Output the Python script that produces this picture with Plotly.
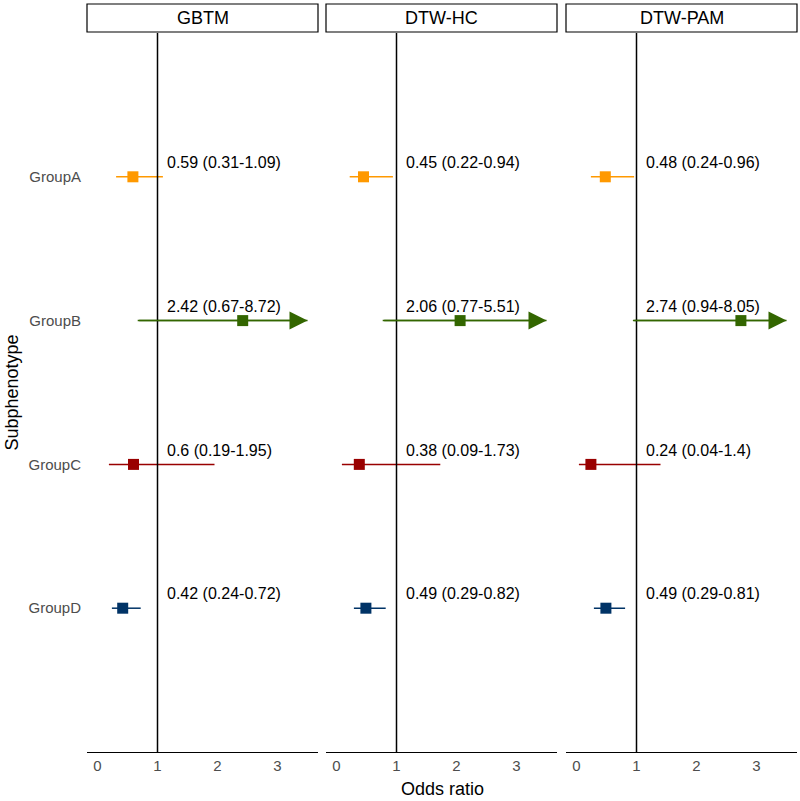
import plotly.graph_objects as go

methods = ["GBTM", "DTW-HC", "DTW-PAM"]
groups = ["GroupA", "GroupB", "GroupC", "GroupD"]
group_colors = ["#FF9900", "#336600", "#990000", "#003366"]

odds = {
    "GBTM":    [0.59, 2.42, 0.60, 0.42],
    "DTW-HC":  [0.45, 2.06, 0.38, 0.49],
    "DTW-PAM": [0.48, 2.74, 0.24, 0.49],
}
lower = {
    "GBTM":    [0.31, 0.67, 0.19, 0.24],
    "DTW-HC":  [0.22, 0.77, 0.09, 0.29],
    "DTW-PAM": [0.24, 0.94, 0.04, 0.29],
}
upper = {
    "GBTM":    [1.09, 8.72, 1.95, 0.72],
    "DTW-HC":  [0.94, 5.51, 1.73, 0.82],
    "DTW-PAM": [0.96, 8.05, 1.40, 0.81],
}
labels = {
    "GBTM":    ["0.59 (0.31-1.09)", "2.42 (0.67-8.72)", "0.6 (0.19-1.95)", "0.42 (0.24-0.72)"],
    "DTW-HC":  ["0.45 (0.22-0.94)", "2.06 (0.77-5.51)", "0.38 (0.09-1.73)", "0.49 (0.29-0.82)"],
    "DTW-PAM": ["0.48 (0.24-0.96)", "2.74 (0.94-8.05)", "0.24 (0.04-1.4)", "0.49 (0.29-0.81)"],
}
x_cap = 3.5
x_ticks = [0, 1, 2, 3]
x_range = [-0.175, 3.675]
ref_line = 1

FONT = "Liberation Sans, Arial, sans-serif"
W, H = 800, 801
panel_px = [(87, 318), (326, 557), (566, 797)]
top_px, bot_px = 33, 752
strip_top, strip_bot = 4, 32

fig = go.Figure()
annotations = []
shapes = []

# y positions: GroupA at top
ypos = {g: len(groups) - i for i, g in enumerate(groups)}

for k, m in enumerate(methods):
    xa = "x" if k == 0 else f"x{k+1}"
    ya = "y" if k == 0 else f"y{k+1}"
    for i, g in enumerate(groups):
        y = ypos[g]
        col = group_colors[i]
        hi = min(upper[m][i], x_cap)
        fig.add_trace(go.Scatter(
            x=[lower[m][i], hi], y=[y, y], mode="lines",
            line=dict(color=col, width=1.5), xaxis=xa, yaxis=ya,
            showlegend=False, hoverinfo="skip"))
        if upper[m][i] > x_cap:
            annotations.append(dict(
                x=x_cap, y=y, ax=lower[m][i], ay=y,
                xref=xa, yref=ya, axref=xa, ayref=ya,
                showarrow=True, arrowhead=2, arrowsize=2.4, arrowwidth=1.5,
                arrowcolor=col, text=""))
        fig.add_trace(go.Scatter(
            x=[odds[m][i]], y=[y], mode="markers",
            marker=dict(symbol="square", size=11, color=col),
            xaxis=xa, yaxis=ya, showlegend=False))
        annotations.append(dict(
            x=1.12, y=y + 0.1, xref=xa, yref=ya, text=labels[m][i],
            showarrow=False, xanchor="left", yanchor="middle",
            font=dict(family=FONT, size=16, color="black")))
    # reference line
    shapes.append(dict(type="line", xref=xa, yref=f"{ya} domain",
                       x0=ref_line, x1=ref_line, y0=0, y1=1,
                       line=dict(color="black", width=1.5)))
    x0p, x1p = panel_px[k]
    dom = [x0p / W, x1p / W]
    # strip box
    shapes.append(dict(type="rect", xref="paper", yref="paper",
                       x0=dom[0], x1=dom[1],
                       y0=1 - strip_bot / H, y1=1 - strip_top / H,
                       line=dict(color="black", width=1.2), fillcolor="white"))
    annotations.append(dict(x=(dom[0] + dom[1]) / 2, y=1 - (strip_top + strip_bot) / 2 / H,
                            xref="paper", yref="paper", text=m, showarrow=False,
                            xanchor="center", yanchor="middle",
                            font=dict(family=FONT, size=18, color="black")))
    xaxis = dict(domain=dom, range=x_range, tickvals=x_ticks,
                 showgrid=False, zeroline=False, showline=True,
                 linecolor="black", linewidth=1.2, ticks="",
                 tickfont=dict(family=FONT, size=15, color="#4D4D4D"),
                 anchor=ya, fixedrange=True)
    yaxis = dict(domain=[1 - bot_px / H, 1 - top_px / H], range=[0, len(groups) + 1],
                 showgrid=False, zeroline=False, showline=False,
                 anchor=xa, fixedrange=True)
    if k == 0:
        yaxis.update(tickvals=[ypos[g] for g in groups], ticktext=groups,
                     tickfont=dict(family=FONT, size=15, color="#4D4D4D"),
                     ticks="", ticklen=0, ticklabelstandoff=5)
    else:
        yaxis.update(showticklabels=False, matches="y")
    fig.update_layout({("xaxis" if k == 0 else f"xaxis{k+1}"): xaxis,
                       ("yaxis" if k == 0 else f"yaxis{k+1}"): yaxis})

annotations.append(dict(x=(panel_px[0][0] + panel_px[2][1]) / 2 / W, y=1 - 789 / H,
                        xref="paper", yref="paper", text="Odds ratio",
                        showarrow=False, xanchor="center", yanchor="middle",
                        font=dict(family=FONT, size=18, color="black")))
annotations.append(dict(x=11 / W, y=1 - (top_px + bot_px) / 2 / H,
                        xref="paper", yref="paper", text="Subphenotype",
                        showarrow=False, textangle=-90, xanchor="center", yanchor="middle",
                        font=dict(family=FONT, size=18, color="black")))

fig.update_layout(width=W, height=H, margin=dict(l=0, r=0, t=0, b=0),
                  plot_bgcolor="white", paper_bgcolor="white",
                  annotations=annotations, shapes=shapes,
                  font=dict(family=FONT))
fig.write_html("out.html", config={"displayModeBar": False},
               post_script="document.body.style.margin='0';document.body.style.padding='0';document.body.style.overflow='hidden';")
